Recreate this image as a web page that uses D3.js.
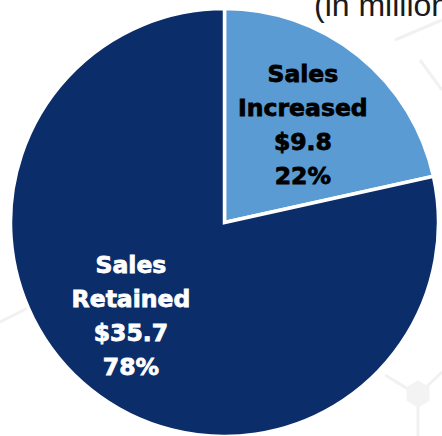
<!DOCTYPE html>
<html>
<head>
<meta charset="utf-8">
<script src="https://cdn.jsdelivr.net/npm/d3@7"></script>
<style>
  html, body { margin: 0; padding: 0; background: #ffffff; }
  svg { display: block; }
</style>
</head>
<body>
<svg id="chart" width="442" height="436"></svg>
<script>
// ---- data ----
const categories = ["Sales Increased", "Sales Retained"];
const labelLines = [["Sales", "Increased"], ["Sales", "Retained"]];
const values = [9.8, 35.7];
const percents = ["22%", "78%"];
const colors = ["#5a9bd3", "#0b2e6a"];
const textColors = ["#000000", "#ffffff"];
const unitLabel = "(in millions)";

// ---- layout ----
const W = 442, H = 436;
const cx = 224.5, cy = 222.5, R = 214;
const svg = d3.select("#chart");

// faint background network pattern
const bg = svg.append("g").attr("stroke", "#f1f1f1").attr("fill", "none").attr("stroke-width", 3);
bg.append("path").attr("d", "M385,375 L418,395 L442,372 M418,395 L418,436");
bg.append("path").attr("d", "M408,388 l10,-6 l10,6 l0,12 l-10,6 l-10,-6 Z").attr("fill", "#f3f3f3").attr("stroke", "#f3f3f3");
bg.append("path").attr("d", "M0,322 L48,298");
bg.append("path").attr("d", "M395,40 L442,20 M420,60 L442,90");

// unit label (cut off at top right, as in the source)
svg.append("text")
  .attr("x", 314).attr("y", 16)
  .attr("font-family", "Liberation Sans, Arial, sans-serif")
  .attr("font-size", 32)
  .attr("fill", "#1a1a1a")
  .text(unitLabel);

const pie = d3.pie().sort(null).value(d => d)
  .startAngle(0).endAngle(2 * Math.PI);
const arcs = pie(values);
const arc = d3.arc().innerRadius(0).outerRadius(R);

const g = svg.append("g").attr("transform", `translate(${cx},${cy})`);
g.selectAll("path.slice")
  .data(arcs)
  .join("path")
  .attr("class", "slice")
  .attr("d", arc)
  .attr("fill", (d, i) => colors[i])
  .attr("stroke", "#ffffff")
  .attr("stroke-width", 3.5)
  .attr("stroke-linejoin", "miter");

// labels
const labelRadius = [0.585 * R, 0.62 * R];
const labelShift = [[0, 0], [-10.5, -10]];
const lineH = 34;
arcs.forEach((a, i) => {
  const mid = (a.startAngle + a.endAngle) / 2;
  const lx = Math.sin(mid) * labelRadius[i] + labelShift[i][0];
  const ly = -Math.cos(mid) * labelRadius[i] + labelShift[i][1];
  const lines = [...labelLines[i], "$" + d3.format(".1f")(values[i]), percents[i]];
  const t = g.append("text")
    .attr("text-anchor", "middle")
    .attr("font-family", "DejaVu Sans, sans-serif")
    .attr("font-weight", "bold")
    .attr("font-size", 23.5)
    .attr("fill", textColors[i])
    .attr("stroke", textColors[i])
    .attr("stroke-width", 0.8);
  lines.forEach((s, k) => {
    t.append("tspan")
      .attr("x", lx)
      .attr("y", ly + 8 + (k - 1.5) * lineH)
      .text(s);
  });
});
</script>
</body>
</html>
